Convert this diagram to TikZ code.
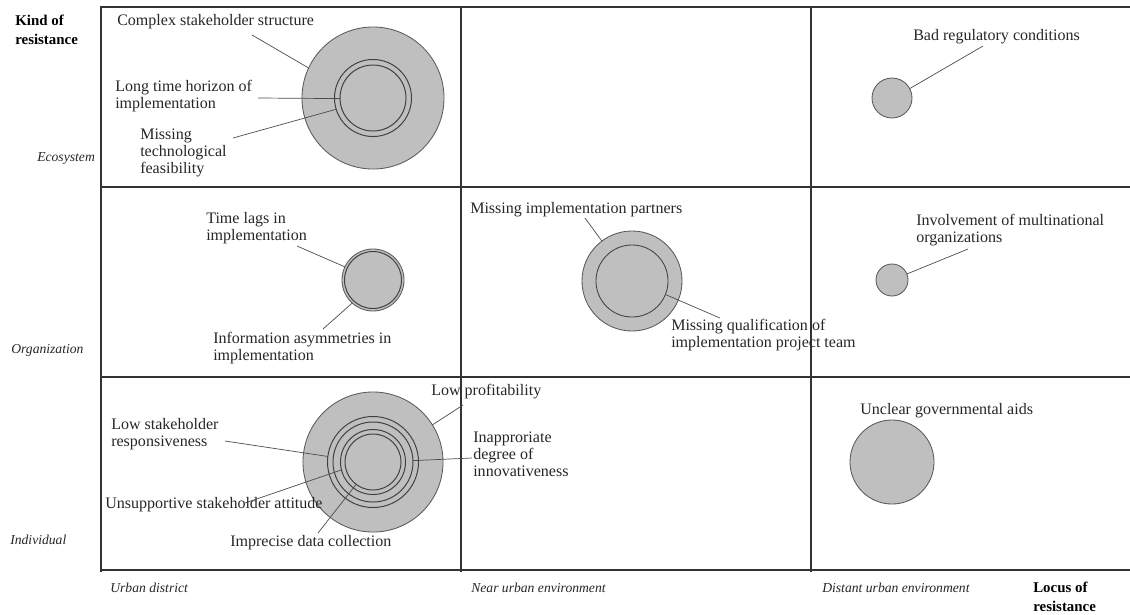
\documentclass[tikz,border=0pt]{standalone}
\usepackage{fontspec}
\setmainfont{Liberation Serif}
\usepackage{tikz}
\usetikzlibrary{positioning}

\begin{document}
\begin{tikzpicture}[x=0.025cm, y=-0.025cm,
    gridline/.style={line width=1pt, black!80},
    bubble/.style={circle, draw=black!65, line width=0.6pt, fill=gray!50, inner sep=0pt, outer sep=0pt},
    ring/.style={circle, draw=black!75, line width=0.7pt, inner sep=0pt, outer sep=0pt},
    leader/.style={black!70, line width=0.5pt},
    lbl/.style={anchor=west, align=left, inner sep=0pt, text=black!85, font=\fontsize{11.4}{12}\selectfont},
    axislbl/.style={anchor=west, inner sep=0pt, text=black!85, font=\fontsize{9.7}{11}\selectfont\itshape},
    headlbl/.style={anchor=west, align=left, inner sep=0pt, font=\fontsize{10.6}{13.8}\selectfont\bfseries}]
    \useasboundingbox (0,0) rectangle (1130,614);

    % 1. Raster der Matrix
    \foreach \y in {7,187,377,570}
        \draw[gridline] (100,\y) -- (1130,\y);
    \foreach \x in {101,461,811}
        \draw[gridline] (\x,7) -- (\x,572);

    % 2. Achsenbeschriftung
    \node[headlbl] (kind) at (15,30) {Kind of\\resistance};
    \node[axislbl] (ecosys) at (37,158) {Ecosystem};
    \node[axislbl] (orga) at (11,350) {Organization};
    \node[axislbl] (indiv) at (10,540) {Individual};
    \node[axislbl] (urban) at (110,588) {Urban district};
    \node[axislbl] (near) at (471,588) {Near urban environment};
    \node[axislbl] (distant) at (822,588) {Distant urban environment};
    \node[headlbl, text depth=0pt] (locus) at (1033,597) {Locus of\\resistance};

    % 3. Ecosystem / Urban district
    \node[bubble, minimum size=3.55cm] (ecoA) at (373,98) {};
    \node[ring, minimum size=1.925cm] (ecoB) at (373,98) {};
    \node[ring, minimum size=1.65cm] (ecoC) at (373,98) {};
    \node[lbl] (complex) at (117,22) {Complex stakeholder structure};
    \node[lbl] (longtime) at (115,96) {Long time horizon of\\implementation};
    \node[lbl] (techfeas) at (140,153) {Missing\\technological\\feasibility};
    \coordinate (complexEnd) at (252,35);
    \coordinate (longtimeEnd) at (258,98);
    \coordinate (techfeasEnd) at (233,138);
    \draw[leader] (complexEnd) -- (ecoA.155);
    \draw[leader] (longtimeEnd) -- (ecoC.181);
    \draw[leader] (techfeasEnd) -- (ecoB.197);

    % 4. Ecosystem / Distant urban environment
    \node[bubble, minimum size=1.0cm] (regul) at (892,98) {};
    \node[lbl] (badreg) at (913,37) {Bad regulatory conditions};
    \coordinate (badregEnd) at (983,46);
    \draw[leader] (badregEnd) -- (regul.28);

    % 5. Organization / Urban district
    \node[bubble, minimum size=1.55cm] (orgA) at (373,280) {};
    \node[ring, minimum size=1.425cm] (orgB) at (373,280) {};
    \node[lbl] (timelags) at (206,228) {Time lags in\\implementation};
    \node[lbl] (infoasym) at (213,348) {Information asymmetries in\\implementation};
    \coordinate (timelagsEnd) at (297,246);
    \coordinate (infoasymEnd) at (323,329);
    \draw[leader] (timelagsEnd) -- (orgA.155);
    \draw[leader] (infoasymEnd) -- (orgA.228);

    % 6. Organization / Near urban environment
    \node[bubble, minimum size=2.5cm] (partA) at (632,281) {};
    \node[ring, line width=0.6pt, minimum size=1.8cm] (partB) at (632,281) {};
    \node[lbl] (partners) at (470,210) {Missing implementation partners};
    \node[lbl] (qualif) at (671,335) {Missing qualification of\\implementation project team};
    \coordinate (partnersEnd) at (585,218);
    \coordinate (qualifEnd) at (720,318);
    \draw[leader] (partnersEnd) -- (partA.127);
    \draw[leader] (qualifEnd) -- (partB.338);

    % 7. Organization / Distant urban environment
    \node[bubble, minimum size=0.8cm] (multi) at (892,280) {};
    \node[lbl] (involve) at (916,230) {Involvement of multinational\\organizations};
    \coordinate (involveEnd) at (968,249);
    \draw[leader] (involveEnd) -- (multi.22);

    % 8. Individual / Urban district
    \node[bubble, minimum size=3.5cm] (indA) at (373,462) {};
    \node[ring, minimum size=2.275cm] (indB) at (373,462) {};
    \node[ring, minimum size=2.0cm] (indC) at (373,462) {};
    \node[ring, minimum size=1.625cm] (indD) at (373,462) {};
    \node[ring, minimum size=1.4cm] (indE) at (373,462) {};
    \node[lbl] (profit) at (431,392) {Low profitability};
    \node[lbl] (respons) at (111,434) {Low stakeholder\\responsiveness};
    \node[lbl] (innov) at (473,454) {Inapproriate\\degree of\\innovativeness};
    \node[lbl] (attitude) at (105,505) {Unsupportive stakeholder attitude};
    \node[lbl] (datacoll) at (230,543) {Imprecise data collection};
    \coordinate (profitEnd) at (463,405);
    \coordinate (responsEnd) at (225,441);
    \coordinate (innovEnd) at (472,458);
    \coordinate (attitudeEnd) at (245,503);
    \coordinate (datacollEnd) at (318,533);
    \draw[leader] (profitEnd) -- (indA.32);
    \draw[leader] (responsEnd) -- (indB.173);
    \draw[leader] (innovEnd) -- (indC.2);
    \draw[leader] (attitudeEnd) -- (indD.194);
    \draw[leader] (datacollEnd) -- (indE.233);

    % 9. Individual / Distant urban environment
    \node[bubble, minimum size=2.1cm] (govaid) at (892,462) {};
    \node[lbl] (unclear) at (860,411) {Unclear governmental aids};
\end{tikzpicture}
\end{document}
